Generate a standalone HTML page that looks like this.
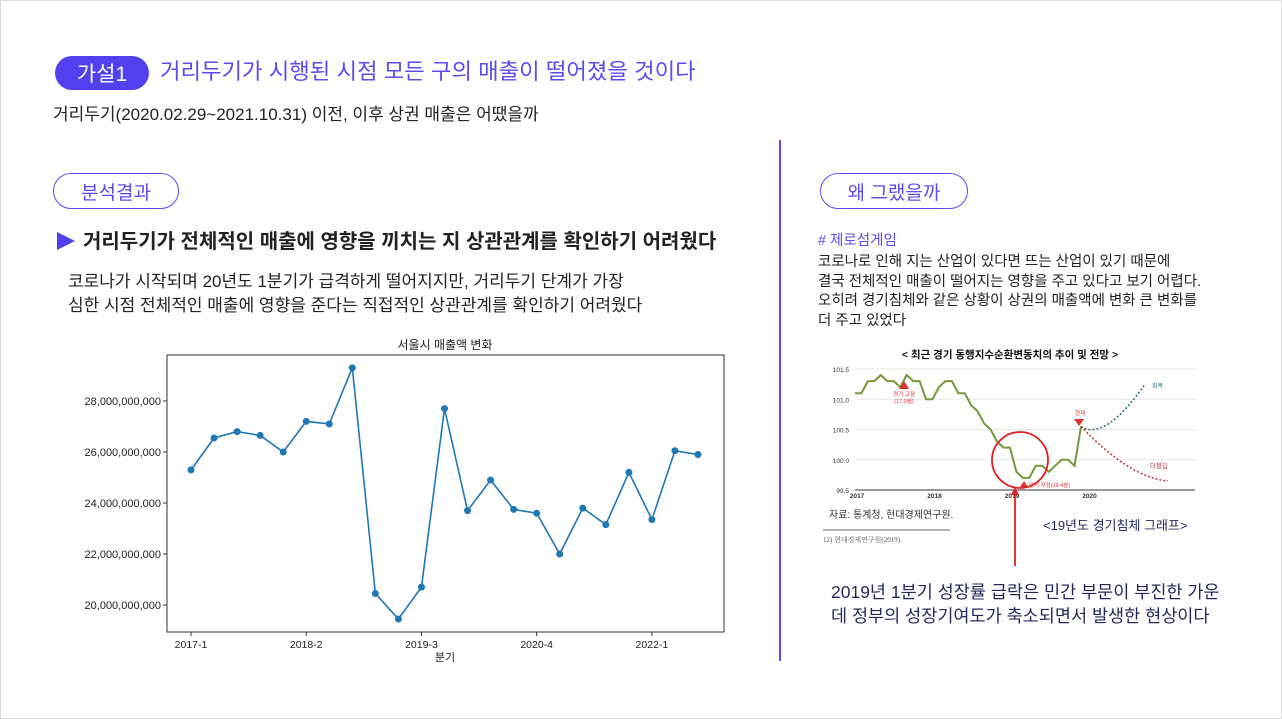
<!DOCTYPE html>
<html><head><meta charset="utf-8"><style>
body{margin:0;width:1282px;height:719px;background:#fff;position:relative;overflow:hidden;font-family:"Liberation Sans","Noto Sans CJK KR",sans-serif;}
.t{position:absolute;white-space:nowrap;line-height:1;}
.pill{position:absolute;border:1.5px solid #5a4cf0;border-radius:18px;color:#5a4cf0;display:flex;align-items:center;justify-content:center;box-sizing:border-box;font-size:19px;}
</style></head><body>
<div style="position:absolute;left:0;top:0;width:1280px;height:717px;border:1px solid #ddd;"></div>
<div class="pill" style="left:55px;top:56px;width:94px;height:34px;background:#5040f0;color:#fff;font-size:21px;border:none;">가설1</div>
<div class="t" style="left:160px;top:61px;font-size:22.3px;color:#5a4cf0;">거리두기가 시행된 시점 모든 구의 매출이 떨어졌을 것이다</div>
<div class="t" style="left:53px;top:106px;font-size:17px;color:#222;">거리두기(2020.02.29~2021.10.31) 이전, 이후 상권 매출은 어땠을까</div>
<div class="pill" style="left:53px;top:173px;width:126px;height:36px;">분석결과</div>
<div style="position:absolute;left:57px;top:232px;width:0;height:0;border-top:9px solid transparent;border-bottom:9px solid transparent;border-left:18px solid #5040f0;"></div>
<div class="t" style="left:83px;top:232px;font-size:20px;color:#222;font-weight:bold;">거리두기가 전체적인 매출에 영향을 끼치는 지 상관관계를 확인하기 어려웠다</div>
<div class="t" style="left:68px;top:270px;font-size:17px;color:#222;line-height:24px;">코로나가 시작되며 20년도 1분기가 급격하게 떨어지지만, 거리두기 단계가 가장<br>심한 시점 전체적인 매출에 영향을 준다는 직접적인 상관관계를 확인하기 어려웠다</div>
<div style="position:absolute;left:779px;top:140px;width:1.5px;height:521px;background:#5a4cf0;"></div>
<div class="pill" style="left:820px;top:173px;width:148px;height:36px;">왜 그랬을까</div>
<div class="t" style="left:818px;top:234px;font-size:14.5px;color:#5a4cf0;">#&nbsp;제로섬게임</div>
<div class="t" style="left:818px;top:253px;font-size:14.5px;color:#222;line-height:19.7px;">코로나로 인해 지는 산업이 있다면 뜨는 산업이 있기 때문에<br>결국 전체적인 매출이 떨어지는 영향을 주고 있다고 보기 어렵다.<br>오히려 경기침체와 같은 상황이 상권의 매출액에 변화 큰 변화를<br>더 주고 있었다</div>
<div class="t" style="left:831px;top:580px;font-size:17.5px;color:#1f2a5a;line-height:24px;">2019년 1분기 성장률 급락은 민간 부문이 부진한 가운<br>데 정부의 성장기여도가 축소되면서 발생한 현상이다</div>

<svg id="main" width="1282" height="719" style="position:absolute;left:0;top:0;" font-family="Liberation Sans, Noto Sans CJK KR, sans-serif"></svg>
<svg id="econ" width="1282" height="719" style="position:absolute;left:0;top:0;" font-family="Liberation Sans, Noto Sans CJK KR, sans-serif"></svg>

<script>
const quarters=["2017-1","2017-2","2017-3","2017-4","2018-1","2018-2","2018-3","2018-4","2019-1","2019-2","2019-3","2019-4","2020-1","2020-2","2020-3","2020-4","2021-1","2021-2","2021-3","2021-4","2022-1","2022-2","2022-3"];
const sales=[25.3e9,26.55e9,26.8e9,26.65e9,26.0e9,27.2e9,27.1e9,29.3e9,20.45e9,19.45e9,20.7e9,27.7e9,23.7e9,24.9e9,23.75e9,23.6e9,22.0e9,23.8e9,23.15e9,25.2e9,23.35e9,26.05e9,25.9e9];
const yTicks=[20e9,22e9,24e9,26e9,28e9];
const xTickLabels=["2017-1","2018-2","2019-3","2020-4","2022-1"];

const econMonths=36;
const econValues=[101.1,101.1,101.3,101.3,101.4,101.3,101.3,101.2,101.4,101.3,101.3,101.0,101.0,101.2,101.3,101.3,101.1,101.1,100.9,100.8,100.6,100.5,100.3,100.2,100.2,99.8,99.7,99.7,99.9,99.9,99.8,99.9,100.0,100.0,99.9,100.55];
const econYTicks=[99.5,100.0,100.5,101.0,101.5];
const econYears=["2017","2018","2019","2020"];

const NS="http://www.w3.org/2000/svg";
function mk(svg,tag,attrs,text){const e=document.createElementNS(NS,tag);for(const k in attrs)e.setAttribute(k,attrs[k]);if(text!==undefined)e.textContent=text;svg.appendChild(e);return e;}

const m=document.getElementById('main');
const L=167,R=724,T=355,B=632;
const xs=i=>191+i*(698-191)/(quarters.length-1);
const ys=v=>605-(v-20e9)/2e9*51;
let e=mk(m,'rect',{x:L,y:T,width:R-L,height:B-T,fill:'none',stroke:'#333','stroke-width':1});


e=mk(m,'text',{x:445,y:349,'font-size':12,'text-anchor':'middle',fill:'#222'},'서울시 매출액 변화');


e=mk(m,'text',{x:445,y:661,'font-size':11,'text-anchor':'middle',fill:'#222'},'분기');


yTicks.forEach(v=>{const y=ys(v);
 e=mk(m,'line',{x1:L-4,x2:L,y1:y,y2:y,stroke:'#333'});
 
 
 e=mk(m,'text',{x:L-6,y:y+4,'font-size':11,'text-anchor':'end',fill:'#222'},v.toLocaleString('en-US'));
 
 
});
xTickLabels.forEach(lbl=>{const i=quarters.indexOf(lbl);const x=xs(i);
 e=mk(m,'line',{x1:x,x2:x,y1:B,y2:B+4,stroke:'#333'});
 
 
 e=mk(m,'text',{x:x,y:B+16,'font-size':10.5,'text-anchor':'middle',fill:'#222'},lbl);
 
 
});
e=mk(m,'polyline',{points:sales.map((v,i)=>xs(i)+','+ys(v)).join(' '),fill:'none',stroke:'#1f77b4','stroke-width':1.6});


sales.forEach((v,i)=>{e=mk(m,'circle',{cx:xs(i),cy:ys(v),r:3.5,fill:'#1f77b4'});
 
 });

const g=document.getElementById('econ');
const ex=i=>855+i*(1081-855)/(econMonths-1);
const ey=v=>490-(v-99.5)/2*121;
e=mk(g,'text',{x:1010,y:358,'font-size':10.5,'font-weight':'bold','text-anchor':'middle',fill:'#111'},'< 최근 경기 동행지수순환변동치의 추이 및 전망 >');


econYTicks.forEach(v=>{const y=ey(v);
 e=mk(g,'line',{x1:855,x2:1195,y1:y,y2:y,stroke:'#e5e5e5'});
 
 
 e=mk(g,'text',{x:849,y:y+3,'font-size':6.5,'text-anchor':'end',fill:'#333'},v.toFixed(1));
 
 });
e=mk(g,'line',{x1:855,x2:1195,y1:490,y2:490,stroke:'#333'});


econYears.forEach((yr,k)=>{const x=ex(k*12);
 e=mk(g,'text',{x:x+2,y:498,'font-size':6.5,'text-anchor':'middle',fill:'#333','font-weight':'bold'},yr);
 
 });
e=mk(g,'polyline',{points:econValues.map((v,i)=>ex(i)+','+ey(v)).join(' '),fill:'none',stroke:'#76983a','stroke-width':2});


const last=econValues.length-1;
e=mk(g,'path',{d:`M${ex(last)} ${ey(econValues[last])} Q1105 ${ey(100.3)} 1145 ${ey(101.25)}`,fill:'none',stroke:'#2a6d80','stroke-width':1.5,'stroke-dasharray':'2 2'});


e=mk(g,'path',{d:`M${ex(last)} ${ey(econValues[last])} Q1130 ${ey(99.7)} 1168 ${ey(99.65)}`,fill:'none',stroke:'#c0303a','stroke-width':1.5,'stroke-dasharray':'2 2'});


e=mk(g,'text',{x:1152,y:388,'font-size':6,fill:'#2a6d80'},'회복');


e=mk(g,'text',{x:1150,y:468,'font-size':6.5,fill:'#c0303a'},'더블딥');


e=mk(g,'path',{d:'M904 381 L909 389 L899 389 Z',fill:'#e03030'});


e=mk(g,'text',{x:904,y:396,'font-size':5.5,'text-anchor':'middle',fill:'#e03030'},'경기 고점');


e=mk(g,'text',{x:904,y:403,'font-size':5.5,'text-anchor':'middle',fill:'#e03030'},'(17.9월)');


e=mk(g,'path',{d:'M1074 419 L1084 419 L1079 426 Z',fill:'#e03030'});


e=mk(g,'text',{x:1080,y:415,'font-size':5.5,'text-anchor':'middle',fill:'#e03030'},'현재');


e=mk(g,'path',{d:'M1024 481 L1028 487 L1020 487 Z',fill:'#e03030'});


e=mk(g,'text',{x:1029,y:487,'font-size':5.5,fill:'#e03030'},'단기 저점(19.4월)');


e=mk(g,'circle',{cx:1020,cy:460,r:28,fill:'none',stroke:'#e02020','stroke-width':1.8});


e=mk(g,'line',{x1:1015,x2:1015,y1:566,y2:494,stroke:'#e02020','stroke-width':1.8});


e=mk(g,'path',{d:'M1015 487 L1019 495 L1011 495 Z',fill:'#e02020'});


e=mk(g,'text',{x:829,y:518,'font-size':10,fill:'#333'},'자료: 통계청, 현대경제연구원.');


e=mk(g,'line',{x1:823,x2:950,y1:530,y2:530,stroke:'#666'});


e=mk(g,'text',{x:823,y:542,'font-size':7,fill:'#555','font-family':'Liberation Serif, Noto Serif CJK SC, serif'},'12) 현대경제연구원(2019).');


e=mk(g,'text',{x:1043,y:530,'font-size':13,fill:'#1f2a5a'},'<19년도 경기침체 그래프>');


</script>
</body></html>
